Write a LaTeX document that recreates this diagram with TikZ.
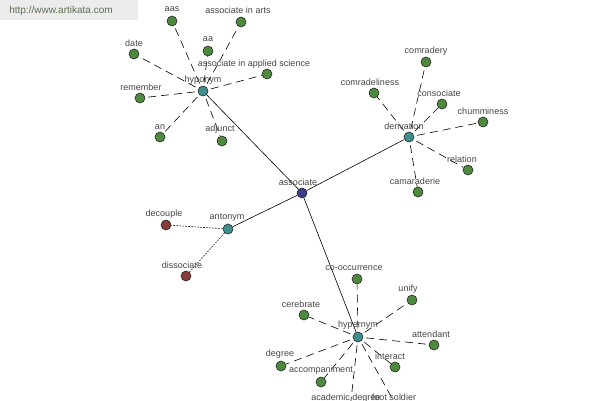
\documentclass[tikz,border=0pt]{standalone}
\usepackage{fontspec}
\setmainfont{Liberation Sans}
\pgfdeclarelayer{bg}
\pgfsetlayers{bg,main}
\definecolor{leafgreen}{HTML}{4E8A3E}
\definecolor{hubteal}{HTML}{3F8F8F}
\definecolor{rootblue}{HTML}{3C3C8A}
\definecolor{antred}{HTML}{8A3A3A}
\definecolor{lblgray}{HTML}{444444}
\definecolor{urlbg}{HTML}{ECECEC}
\definecolor{urltext}{HTML}{5E6E52}
\begin{document}
\begin{tikzpicture}[x=1pt,y=-1pt,
  vtx/.style={circle,inner sep=0pt,minimum size=10pt,draw=black!85,line width=0.6pt},
  leaf/.style={vtx,fill=leafgreen},
  hub/.style={vtx,fill=hubteal},
  root/.style={vtx,fill=rootblue},
  opp/.style={vtx,fill=antred},
  lbl/.style={font=\fontsize{9}{10}\selectfont,text=lblgray,inner sep=0pt},
  solidedge/.style={draw=black,line width=0.6pt},
  dashedge/.style={draw=black,line width=0.6pt,dash pattern=on 8pt off 5pt,shorten <=3pt},
  dotedge/.style={draw=black,line width=0.6pt,dash pattern=on 1.5pt off 1.5pt},
  ]
\useasboundingbox (0,0) rectangle (600,400);
\clip (0,0) rectangle (600,400);
\fill[urlbg] (0,0) rectangle (138,20);
\node[font=\fontsize{10}{12}\selectfont,text=urltext,inner sep=0pt] (url) at (61,11) {http://www.artikata.com};

% hubs
\node[root] (assoc) at (302,193) {};
\node[hub] (hypo) at (203,91) {};
\node[hub] (deriv) at (409,137) {};
\node[hub] (anto) at (228,229) {};
\node[hub] (hyper) at (358,337) {};
\node[lbl] (l-assoc) at (298,182) {associate};
\node[lbl] (l-hypo) at (203,80) {hyponym};
\node[lbl] (l-deriv) at (404,126) {derivation};
\node[lbl] (l-anto) at (227,218) {antonym};
\node[lbl] (l-hyper) at (358,325) {hypernym};

% leaves: name / node x / node y / label x / label y / text / hub
\foreach \n/\x/\y/\lx/\ly/\t/\h in {
  aas/172/21/172/9/aas/hypo,
  aia/241/22/238/10/associate in arts/hypo,
  aa/208/51/208/39/aa/hypo,
  date/134/54/134/43/date/hypo,
  aias/267/74/254/64/associate in applied science/hypo,
  rem/140/98/141/87/remember/hypo,
  an/160/137/160/127/an/hypo,
  adj/222/141/220/129/adjunct/hypo,
  comr/426/62/426/51/comradery/deriv,
  comrl/374/93/370/82/comradeliness/deriv,
  cons/442/104/439/93/consociate/deriv,
  chum/483/122/483/111/chumminess/deriv,
  rel/468/170/462/159/relation/deriv,
  cama/418/192/415/181/camaraderie/deriv,
  cooc/357/279/354/268/co-occurrence/hyper,
  unify/412/300/408/289/unify/hyper,
  cere/304/315/301/304/cerebrate/hyper,
  att/434/345/431/334/attendant/hyper,
  deg/281/366/280/354/degree/hyper,
  inter/395/367/390/356/interact/hyper,
  accomp/321/382/321/370/accompaniment/hyper,
  acad/350/409/346/398/academic degree/hyper,
  foot/398/409/394/397/foot soldier/hyper}
{
  \node[leaf] (\n) at (\x,\y) {};
  \node[lbl] (l-\n) at (\lx,\ly) {\t};
  \begin{pgfonlayer}{bg}
    \path[dashedge] (\h) -- (\n);
  \end{pgfonlayer}
}

% antonym leaves
\node[opp] (dec) at (166,225) {};
\node[lbl] (l-dec) at (164,214) {decouple};
\node[opp] (diss) at (186,276) {};
\node[lbl] (l-diss) at (182,265) {dissociate};

\begin{pgfonlayer}{bg}
  \path[dotedge] (anto) -- (dec);
  \path[dotedge] (anto) -- (diss);
  \path[solidedge] (assoc) -- (hypo);
  \path[solidedge] (assoc) -- (deriv);
  \path[solidedge] (assoc) -- (anto);
  \path[solidedge] (assoc) -- (hyper);
\end{pgfonlayer}
\end{tikzpicture}
\end{document}
